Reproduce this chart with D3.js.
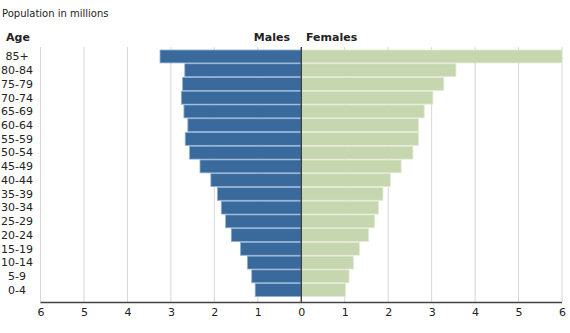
<!DOCTYPE html>
<html>
<head>
<meta charset="utf-8">
<script src="https://cdn.jsdelivr.net/npm/d3@7/dist/d3.min.js"></script>
<style>
  html, body { margin: 0; padding: 0; background: #fff; }
  svg { display: block; font-family: "DejaVu Sans", Verdana, sans-serif; }
</style>
</head>
<body>
<svg id="chart" width="570" height="333"></svg>
<script>
// Age groups, oldest at the top
const ageGroups = ["85+", "80-84", "75-79", "70-74", "65-69", "60-64", "55-59", "50-54",
  "45-49", "40-44", "35-39", "30-34", "25-29", "20-24", "15-19", "10-14", "5-9", "0-4"];
// Population in millions
const males = [3.25, 2.68, 2.73, 2.76, 2.70, 2.61, 2.67, 2.57,
  2.33, 2.08, 1.93, 1.84, 1.74, 1.61, 1.40, 1.24, 1.14, 1.06];
const females = [6.00, 3.56, 3.28, 3.03, 2.83, 2.70, 2.70, 2.57,
  2.30, 2.05, 1.88, 1.78, 1.69, 1.55, 1.34, 1.20, 1.10, 1.02];
const tickValues = [0, 1, 2, 3, 4, 5, 6];

const svg = d3.select("#chart");

const plotLeft = 40.5, plotRight = 562, mid = (plotLeft + plotRight) / 2;
const plotTop = 47, axisY = 302.5;

const xMale = d3.scaleLinear().domain([0, 6]).range([mid, plotLeft]);
const xFemale = d3.scaleLinear().domain([0, 6]).range([mid, plotRight]);
const y = d3.scaleBand().domain(ageGroups).range([50, 296.5]).paddingInner(0.06).paddingOuter(0);

// Vertical gridlines
const grid = svg.append("g");
tickValues.filter(v => v > 0).forEach(v => {
  [xMale(v), xFemale(v)].forEach(px => {
    grid.append("line")
      .attr("x1", px).attr("x2", px)
      .attr("y1", plotTop).attr("y2", axisY)
      .attr("stroke", "#d6d6d6").attr("stroke-width", 1);
  });
});

// Male bars
svg.append("g").selectAll("rect")
  .data(ageGroups)
  .join("rect")
  .attr("x", (d, i) => xMale(males[i]))
  .attr("y", d => y(d))
  .attr("width", (d, i) => mid - xMale(males[i]))
  .attr("height", y.bandwidth())
  .attr("fill", "#3a6a9c")
  .attr("stroke", "#8fb1d6")
  .attr("stroke-width", 0.8);

// Female bars
svg.append("g").selectAll("rect")
  .data(ageGroups)
  .join("rect")
  .attr("x", mid)
  .attr("y", d => y(d))
  .attr("width", (d, i) => xFemale(females[i]) - mid)
  .attr("height", y.bandwidth())
  .attr("fill", "#c6d6ae")
  .attr("stroke", "#e2ebd6")
  .attr("stroke-width", 0.8);

// Centre line
svg.append("line")
  .attr("x1", mid).attr("x2", mid)
  .attr("y1", plotTop).attr("y2", axisY)
  .attr("stroke", "#2b2b2b").attr("stroke-width", 1.3);

// Bottom axes, mirrored around zero
const axisStyle = g => {
  g.select(".domain").remove();
  g.selectAll(".tick line").remove();
  g.selectAll(".tick text")
    .attr("font-size", 11)
    .attr("fill", "#222")
    .attr("font-family", "\"DejaVu Sans\", Verdana, sans-serif");
};
svg.append("g")
  .attr("transform", `translate(0,${axisY + 3})`)
  .call(d3.axisBottom(xMale).tickValues(tickValues).tickFormat(d3.format("d")).tickSize(0))
  .call(axisStyle);
svg.append("g")
  .attr("transform", `translate(0,${axisY + 3})`)
  .call(d3.axisBottom(xFemale).tickValues(tickValues.filter(v => v > 0)).tickFormat(d3.format("d")).tickSize(0))
  .call(axisStyle);

svg.append("line")
  .attr("x1", plotLeft).attr("x2", plotRight)
  .attr("y1", axisY).attr("y2", axisY)
  .attr("stroke", "#444").attr("stroke-width", 1.5);

// Age labels
svg.append("g").selectAll("text")
  .data(ageGroups)
  .join("text")
  .attr("x", 17)
  .attr("y", d => y(d) + y.bandwidth() / 2)
  .attr("dy", "0.35em")
  .attr("text-anchor", "middle")
  .attr("font-size", 11)
  .attr("fill", "#222")
  .text(d => d);

// Titles
svg.append("text").attr("x", 2).attr("y", 17)
  .attr("font-size", 10).attr("fill", "#222")
  .text("Population in millions");
svg.append("text").attr("x", 6).attr("y", 41)
  .attr("font-size", 11).attr("font-weight", "bold").attr("fill", "#222")
  .text("Age");
svg.append("text").attr("x", 290).attr("y", 41)
  .attr("text-anchor", "end")
  .attr("font-size", 11).attr("font-weight", "bold").attr("fill", "#222")
  .text("Males");
svg.append("text").attr("x", 306).attr("y", 41)
  .attr("font-size", 11).attr("font-weight", "bold").attr("fill", "#222")
  .text("Females");
</script>
</body>
</html>
